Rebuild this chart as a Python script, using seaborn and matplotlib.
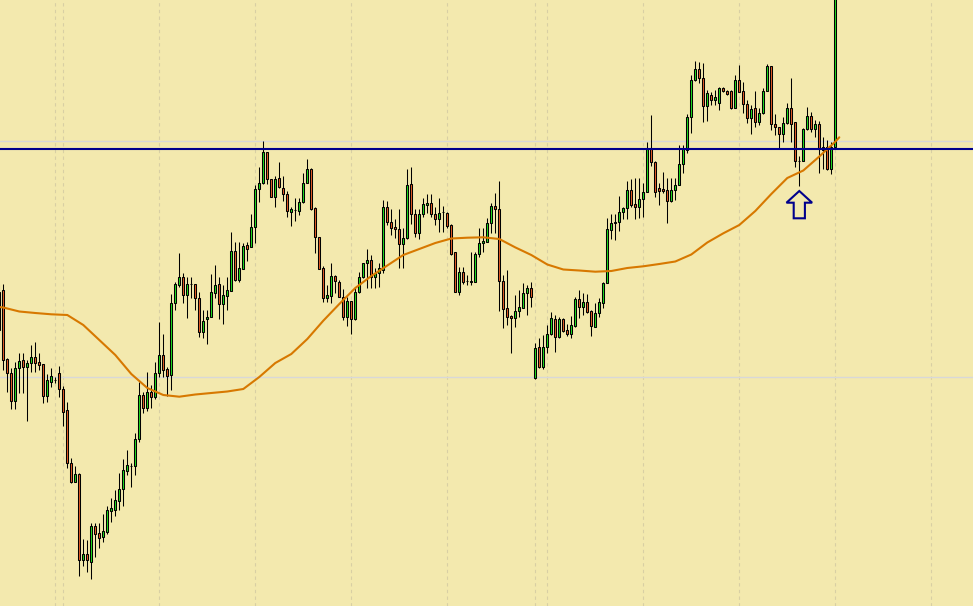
"""plot.py
Candlestick chart with a moving average, a horizontal level and a buy arrow.
"""

# Imports
import matplotlib
matplotlib.use('Agg')
import matplotlib.pyplot as plt
from matplotlib.patches import Polygon
import seaborn as sns
import pandas as pd
import numpy as np


# Data (price in chart points)
first_bar = -1
opens = [276, 316, 247, 233, 205, 238, 246, 239, 243, 249, 244, 242, 210, 224, 226, 233,
         217, 196, 143, 124, 132, 46, 52, 44, 80, 73, 69, 74, 95, 96, 105, 117,
         135, 140, 140, 167, 211, 198, 214, 209, 233, 251, 237, 231, 303, 321, 329, 311,
         322, 322, 308, 274, 287, 289, 313, 322, 302, 310, 315, 355, 326, 337, 361, 359,
         379, 417, 423, 454, 427, 409, 428, 418, 412, 394, 396, 395, 404, 423, 437, 398,
         369, 338, 308, 310, 330, 324, 309, 289, 305, 287, 314, 329, 343, 346, 329, 333,
         336, 399, 384, 379, 377, 362, 368, 422, 392, 373, 392, 401, 403, 392, 387, 394,
         393, 381, 354, 314, 334, 325, 325, 324, 352, 363, 364, 383, 400, 397, 325, 298,
         290, 288, 295, 298, 313, 318, 228, 259, 239, 259, 272, 287, 269, 287, 276, 272,
         280, 307, 299, 304, 295, 279, 293, 303, 323, 376, 383, 384, 394, 398, 416, 402,
         399, 407, 414, 458, 444, 418, 417, 416, 405, 416, 421, 442, 456, 489, 526, 537,
         528, 500, 511, 506, 503, 518, 515, 515, 498, 526, 515, 502, 488, 498, 484, 493,
         515, 540, 482, 479, 472, 483, 498, 484, 445, 445, 477, 490, 477, 482, 459, 459,
         437, 459]
closes = [314, 246, 233, 205, 238, 245, 239, 243, 249, 243, 241, 210, 226, 230, 226, 217,
          194, 143, 124, 132, 46, 52, 46, 80, 72, 68, 75, 96, 98, 106, 117, 136,
          141, 140, 167, 211, 198, 214, 209, 233, 251, 236, 230, 303, 322, 329, 311, 322,
          322, 308, 274, 285, 289, 314, 321, 302, 311, 316, 355, 326, 338, 360, 357, 379,
          417, 423, 454, 427, 409, 427, 419, 412, 395, 397, 396, 404, 423, 437, 397, 369,
          337, 308, 311, 330, 325, 309, 289, 305, 287, 314, 329, 343, 346, 329, 333, 338,
          399, 384, 378, 377, 362, 368, 421, 392, 373, 392, 402, 403, 392, 387, 393, 394,
          380, 352, 314, 334, 324, 325, 324, 352, 363, 365, 383, 400, 397, 325, 297, 289,
          288, 295, 299, 313, 318, 309, 258, 239, 259, 272, 288, 269, 287, 275, 272, 281,
          307, 299, 304, 294, 280, 293, 304, 323, 377, 383, 384, 394, 398, 416, 401, 399,
          407, 414, 458, 444, 414, 415, 415, 405, 416, 421, 442, 457, 489, 526, 537, 528,
          500, 513, 506, 509, 518, 515, 512, 498, 526, 514, 502, 488, 497, 484, 493, 515,
          540, 482, 479, 472, 483, 498, 482, 445, 445, 477, 490, 477, 482, 458, 456, 437,
          459, 636]
highs = [321, 322, 248, 238, 244, 253, 253, 246, 261, 264, 253, 242, 232, 238, 229, 240,
         220, 204, 148, 140, 133, 67, 66, 83, 83, 83, 92, 100, 108, 116, 133, 147,
         156, 143, 173, 224, 214, 234, 221, 244, 284, 272, 239, 312, 324, 353, 333, 329,
         329, 322, 314, 296, 296, 332, 341, 329, 321, 329, 374, 364, 364, 363, 364, 392,
         421, 439, 465, 454, 427, 430, 444, 430, 415, 399, 408, 408, 433, 447, 438, 399,
         369, 340, 321, 343, 331, 326, 317, 309, 305, 318, 334, 343, 357, 351, 338, 343,
         406, 405, 397, 387, 397, 378, 437, 439, 397, 397, 408, 412, 412, 399, 408, 400,
         394, 382, 354, 339, 339, 331, 354, 354, 378, 378, 388, 403, 413, 425, 331, 336,
         291, 311, 316, 323, 321, 324, 263, 268, 271, 281, 294, 291, 289, 288, 282, 290,
         309, 316, 313, 312, 296, 303, 308, 324, 388, 392, 392, 410, 399, 425, 427, 428,
         428, 423, 464, 491, 445, 423, 434, 428, 428, 428, 461, 461, 492, 531, 545, 544,
         543, 516, 514, 516, 519, 519, 516, 516, 531, 541, 524, 506, 501, 515, 498, 518,
         542, 540, 492, 479, 489, 503, 528, 484, 450, 478, 499, 494, 486, 485, 469, 466,
         464, 656]
lows = [274, 236, 214, 197, 197, 213, 213, 185, 234, 234, 236, 203, 204, 219, 223, 209,
        180, 138, 123, 124, 30, 40, 34, 27, 49, 58, 64, 72, 84, 90, 96, 100,
        131, 119, 131, 164, 193, 195, 198, 207, 229, 229, 210, 216, 296, 319, 303, 288,
        308, 296, 269, 268, 262, 289, 308, 287, 282, 296, 315, 325, 324, 337, 345, 359,
        363, 404, 422, 422, 409, 399, 418, 405, 389, 380, 385, 391, 403, 423, 396, 353,
        337, 304, 304, 303, 313, 309, 286, 280, 272, 286, 313, 328, 318, 318, 318, 319,
        333, 381, 371, 368, 338, 338, 367, 382, 369, 367, 389, 393, 389, 381, 374, 374,
        378, 351, 314, 311, 322, 321, 321, 324, 349, 354, 364, 373, 373, 295, 278, 281,
        253, 279, 289, 298, 291, 299, 227, 238, 237, 253, 271, 254, 268, 274, 270, 268,
        279, 288, 291, 293, 270, 279, 289, 298, 323, 367, 366, 375, 387, 387, 399, 387,
        388, 389, 414, 440, 409, 401, 413, 383, 404, 406, 421, 433, 453, 473, 525, 523,
        484, 485, 501, 501, 496, 514, 511, 497, 498, 514, 493, 483, 472, 479, 481, 492,
        515, 476, 471, 457, 464, 482, 464, 439, 420, 445, 476, 474, 469, 433, 437, 436,
        432, 458]

# Moving average, read at every fourth bar
ma_bars = [-1, 0, 4, 8, 12, 16, 20, 24, 28, 32, 36, 40, 44, 48, 52, 56, 60, 64, 68, 72,
           76, 80, 84, 88, 92, 96, 100, 104, 108, 112, 116, 120, 124, 128, 132, 136,
           140, 144, 148, 152, 156, 160, 164, 168, 172, 176, 180, 184, 188, 192, 196,
           200, 204, 208, 209]
ma_values = [299, 298.5, 294.5, 293, 291.7, 291, 281, 266, 251, 232, 218, 211, 209.3,
             211.5, 213, 214.5, 217, 229, 243, 252, 267, 285.3, 302, 318, 330, 340.5,
             351, 357, 363, 367.5, 368.3, 368.7, 367, 358.6, 351, 341.5, 336.5, 335.5,
             334.3, 335, 338, 339.7, 342, 344.5, 351.5, 363.5, 372.7, 381, 395, 412,
             428, 435.5, 449.5, 464.3, 468.7]

level = 456.7
grid_rows = [229.3, 465.3]
grid_cols = [13, 15, 39, 63, 87, 111, 133, 136, 160, 184, 208, 232]
signal_bar = 199

# Colours
bg = '#f3e9ae'
up_color = '#1fdc1f'
down_color = '#e65c26'

sns.set_style('white', {'axes.facecolor': bg, 'figure.facecolor': bg})

df = pd.DataFrame({'open': opens, 'close': closes, 'high': highs, 'low': lows})
df['bar'] = np.arange(first_bar, first_bar + len(df))
df['up'] = df['close'] >= df['open']

# Create figure
fig = plt.figure(figsize=(9.73, 6.06), dpi=100)
ax = fig.add_axes([0, 0, 1, 1])
ax.set_xlim(-0.825, 242.425)
ax.set_ylim(0, 606)

# Grid
for c in grid_cols:
    ax.axvline(c, color='#d8cfa4', lw=0.8, ls=(0, (3, 3)), zorder=0)
for r in grid_rows:
    ax.axhline(r, color='#d8d8d8', lw=1.0, zorder=0)

# Candles
ax.vlines(df['bar'], df['low'], df['high'], color='black', lw=0.75, zorder=2)
body_low = df[['open', 'close']].min(axis=1)
body_h = (df['close'] - df['open']).abs()
ax.bar(df['bar'], body_h, bottom=body_low, width=0.58,
       color=np.where(df['up'], up_color, down_color),
       edgecolor='black', lw=0.75, zorder=3)

# Moving average
sns.lineplot(x=ma_bars, y=ma_values, ax=ax, color='#d77800', lw=1.5, zorder=4)

# Level line
ax.axhline(level, color='#00008c', lw=1.5, zorder=5)

# Buy arrow under the signal bar
tip, base, tail = 415, 403.3, 387.7
head_w, shaft_w = 3.2, 1.4
arrow = Polygon([(signal_bar, tip), (signal_bar + head_w, base),
                 (signal_bar + shaft_w, base), (signal_bar + shaft_w, tail),
                 (signal_bar - shaft_w, tail), (signal_bar - shaft_w, base),
                 (signal_bar - head_w, base)],
                closed=True, facecolor=bg, edgecolor='#00008c', lw=1.5, zorder=6)
ax.add_patch(arrow)

ax.set_xticks([])
ax.set_yticks([])
for s in ax.spines.values():
    s.set_visible(False)

fig.savefig('out.png', dpi=100, facecolor=bg)
